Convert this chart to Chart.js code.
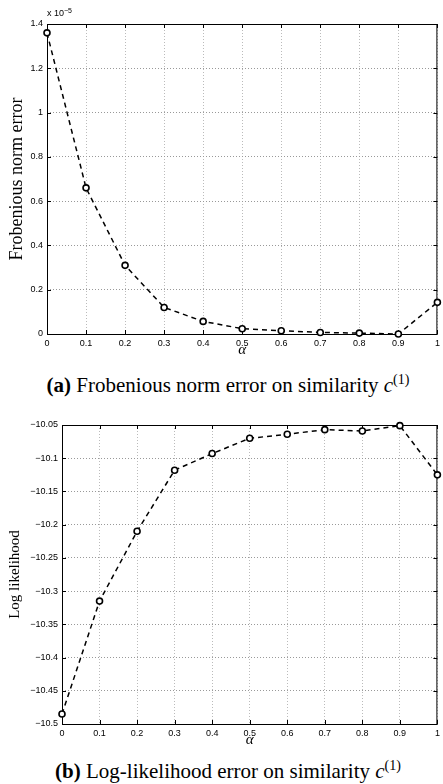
<!DOCTYPE html>
<html>
<head>
<meta charset="utf-8">
<script src="https://cdn.jsdelivr.net/npm/chart.js@4/dist/chart.umd.min.js"></script>
<style>
    body { margin: 0; background: #fff; }
    #page { position: relative; width: 443px; height: 784px; overflow: hidden; }
    .box { position: absolute; left: 0; width: 443px; }
    .caption { position: absolute; left: 0; width: 456px; text-align: center; font-family: "Liberation Serif", serif; font-size: 21px; line-height: 24px; color: #000; white-space: nowrap; }
    .caption i { font-style: italic; }
    .caption sup { font-size: 14px; vertical-align: 8px; line-height: 0; }
    #expo { position: absolute; left: 47px; top: 7px; font-family: "Liberation Sans", sans-serif; font-size: 9px; }
    #expo sup { font-size: 7px; vertical-align: 3px; }
</style>
</head>
<body>
<div id="page">
    <div class="box" style="top:0;height:358px"><canvas id="chartA"></canvas></div>
    <div id="expo">x 10<sup>&minus;5</sup></div>
    <div class="caption" style="top:373px"><b>(a)</b> Frobenious norm error on similarity <i>c</i><sup>(1)</sup></div>

    <div class="box" style="top:405px;height:343px"><canvas id="chartB"></canvas></div>
    <div class="caption" style="top:759px"><b>(b)</b> Log-likelihood error on similarity <i>c</i><sup>(1)</sup></div>
</div>
<script>
// alpha values on the x axis
var alphas = [0, 0.1, 0.2, 0.3, 0.4, 0.5, 0.6, 0.7, 0.8, 0.9, 1];
// frobenius norm error, in units of 1e-5
var frobError = [1.36, 0.66, 0.31, 0.12, 0.057, 0.024, 0.015, 0.007, 0.004, 0.0, 0.143];
// log likelihood
var logLik = [-10.485, -10.315, -10.21, -10.118, -10.093, -10.07, -10.064, -10.057, -10.059, -10.051, -10.125];

var sans = "'Liberation Sans', Arial, sans-serif";
var serif = "'Liberation Serif', 'Times New Roman', serif";

function minus(v) {
    var s = String(Math.round(v * 1000) / 1000);
    return s.replace('-', '\u2212');
}

// matlab style box with inward ticks
var framePlugin = {
    id: 'frame',
    beforeDatasetsDraw: function(chart) {
        var a = chart.chartArea;
        var ctx = chart.ctx;
        ctx.save();
        ctx.strokeStyle = '#000';
        ctx.lineWidth = 1;
        ctx.strokeRect(a.left + 0.5, a.top + 0.5, a.right - a.left - 1, a.bottom - a.top);
        ctx.beginPath();
        chart.scales.x.ticks.forEach(function(t) {
            var px = Math.round(chart.scales.x.getPixelForValue(t.value)) + 0.5;
            ctx.moveTo(px, a.bottom); ctx.lineTo(px, a.bottom - 4);
            ctx.moveTo(px, a.top); ctx.lineTo(px, a.top + 4);
        });
        chart.scales.y.ticks.forEach(function(t) {
            var py = Math.round(chart.scales.y.getPixelForValue(t.value)) + 0.5;
            ctx.moveTo(a.left, py); ctx.lineTo(a.left + 4, py);
            ctx.moveTo(a.right, py); ctx.lineTo(a.right - 4, py);
        });
        ctx.stroke();
        ctx.restore();
    }
};

function makeChart(id, values, yMin, yMax, yStep, yTitle, yTitleSize, axisWidth, padTop) {
    return new Chart(document.getElementById(id), {
        type: 'line',
        data: {
            labels: alphas,
            datasets: [{
                data: alphas.map(function(a, i) { return {x: a, y: values[i]}; }),
                borderColor: '#000',
                borderWidth: 1.5,
                borderDash: [5, 4],
                tension: 0,
                pointRadius: 3,
                pointBorderWidth: 1.6,
                pointBorderColor: '#000',
                pointBackgroundColor: '#fff',
                clip: false
            }]
        },
        options: {
            responsive: true,
            maintainAspectRatio: false,
            animation: false,
            layout: {padding: {top: padTop, right: 3, left: 0, bottom: 0}},
            plugins: {legend: {display: false}, tooltip: {enabled: false}},
            scales: {
                x: {
                    type: 'linear',
                    min: 0, max: 1,
                    ticks: {stepSize: 0.1, padding: 4, color: '#000', maxRotation: 0,
                        font: {family: sans, size: 9},
                        callback: function(v) { return minus(v); }},
                    grid: {color: '#bbb', drawTicks: false},
                    border: {display: false, dash: [1, 2]},
                    title: {display: true, text: '\u03b1', color: '#000', padding: 0,
                        font: {family: serif, size: 15, style: 'italic', lineHeight: 1}},
                    afterFit: function(s) { s.height = 24; s.paddingLeft = 0; s.paddingRight = 0; }
                },
                y: {
                    min: yMin, max: yMax,
                    ticks: {stepSize: yStep, padding: 4, color: '#000',
                        font: {family: sans, size: 9},
                        callback: function(v) { return minus(v); }},
                    grid: {color: '#999', drawTicks: false},
                    border: {display: false, dash: [1, 2]},
                    title: {display: true, text: yTitle, color: '#000', padding: {top: 6, bottom: 0},
                        font: {family: serif, size: yTitleSize}},
                    afterFit: function(s) { s.width = axisWidth; s.paddingTop = 0; s.paddingBottom = 0; }
                }
            }
        },
        plugins: [framePlugin]
    });
}

makeChart('chartA', frobError, 0, 1.4, 0.2, 'Frobenious norm error', 18, 47, 24);
makeChart('chartB', logLik, -10.5, -10.05, 0.05, 'Log likelihood', 15, 62, 20);
</script>
</body>
</html>
